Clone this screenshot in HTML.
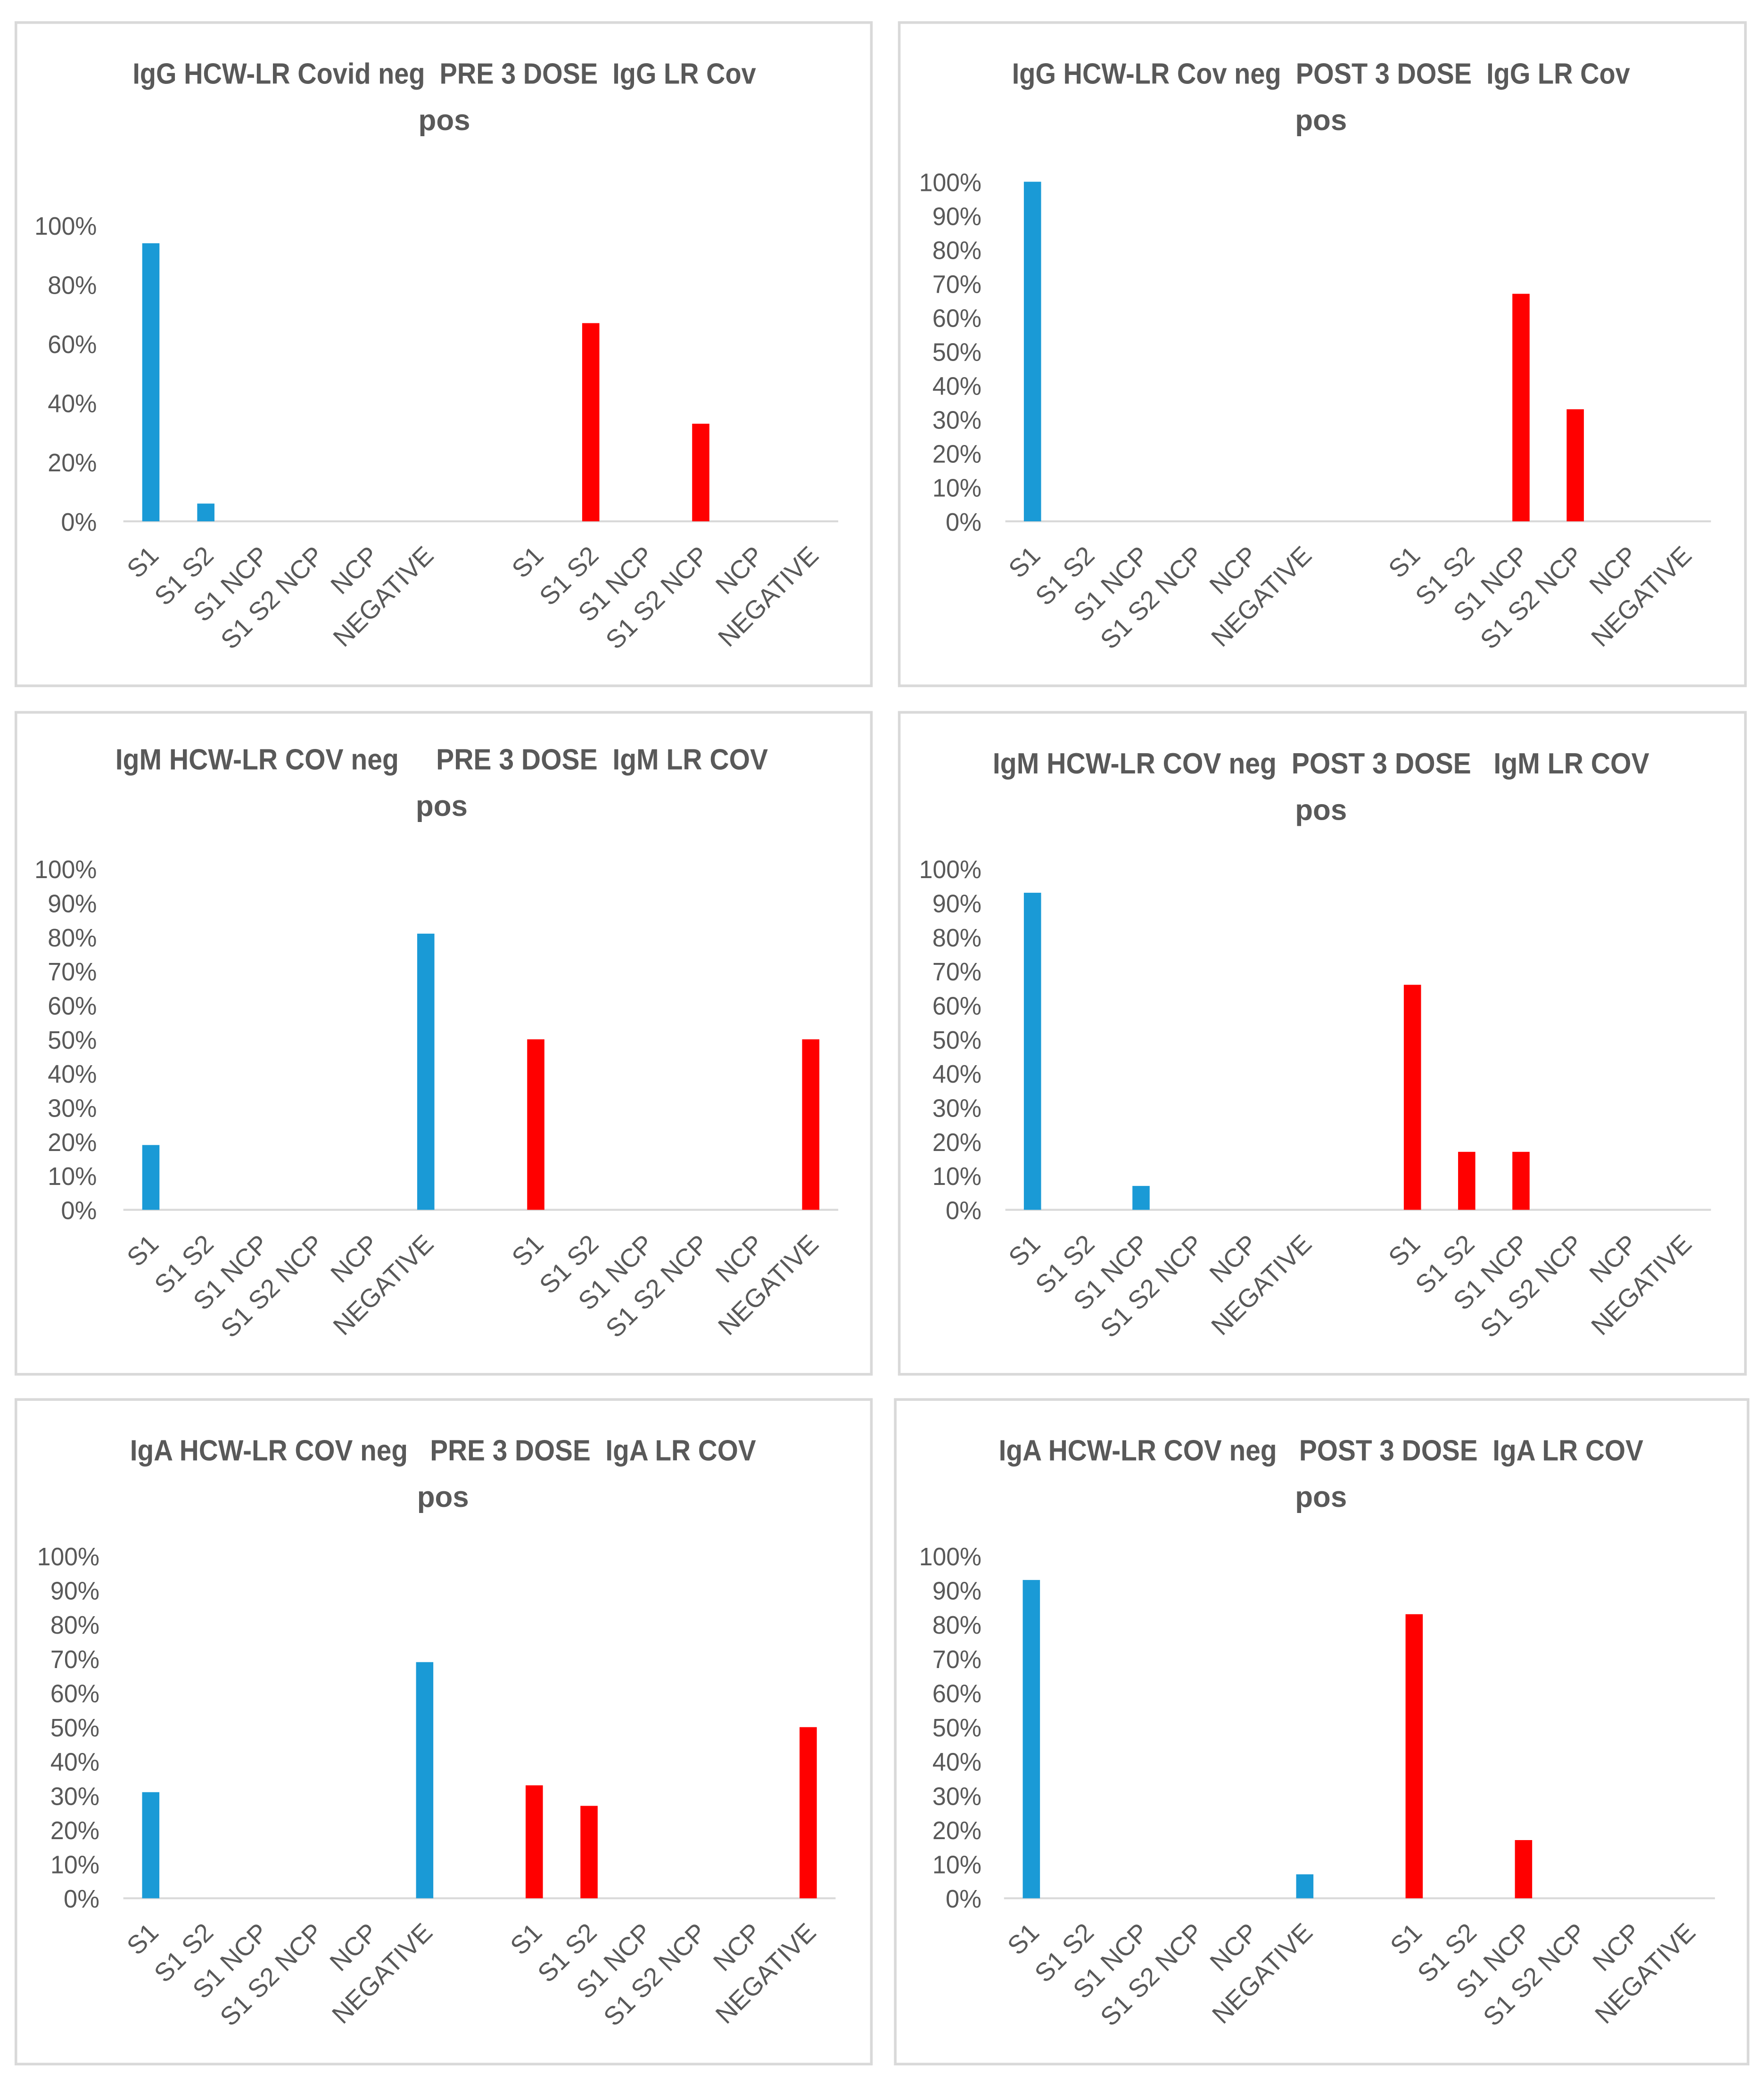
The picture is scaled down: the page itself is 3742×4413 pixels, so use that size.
<!DOCTYPE html>
<html><head><meta charset="utf-8"><style>
html,body{margin:0;padding:0;background:#fff}
svg{display:block}
text{white-space:pre}
</style></head><body>
<svg id="fig" width="3742" height="4413" viewBox="0 0 1330 1568" preserveAspectRatio="none" xmlns="http://www.w3.org/2000/svg" font-family="'Liberation Sans', sans-serif"></svg>
<script>
const categories = ["S1","S1 S2","S1 NCP","S1 S2 NCP","NCP","NEGATIVE"];
const titles1 = ["IgG HCW-LR Covid neg  PRE 3 DOSE  IgG LR Cov","IgG HCW-LR Cov neg  POST 3 DOSE  IgG LR Cov","IgM HCW-LR COV neg     PRE 3 DOSE  IgM LR COV","IgM HCW-LR COV neg  POST 3 DOSE   IgM LR COV","IgA HCW-LR COV neg   PRE 3 DOSE  IgA LR COV","IgA HCW-LR COV neg   POST 3 DOSE  IgA LR COV"];
const negValues = [[94,6,0,0,0,0],[100,0,0,0,0,0],[19,0,0,0,0,81],[93,0,7,0,0,0],[31,0,0,0,0,69],[93,0,0,0,0,7]];
const posValues = [[0,67,0,33,0,0],[0,0,67,33,0,0],[50,0,0,0,0,50],[66,17,17,0,0,0],[33,27,0,0,0,50],[83,0,17,0,0,0]];
const tickStep = [20,10,10,10,10,10];

const panels = [
 {bx:12,by:17,bw:645,bh:500,x0:93,x1:632,base:393,top:170,lab:73,tx:335,ty:55,tw:470},
 {bx:678,by:17,bw:638,bh:500,x0:758,x1:1290,base:393,top:137,lab:740,tx:996,ty:55,tw:466},
 {bx:12,by:537,bw:645,bh:499,x0:93,x1:632,base:912,top:655,lab:73,tx:333,ty:572,tw:492},
 {bx:678,by:537,bw:638,bh:499,x0:758,x1:1290,base:912,top:655,lab:740,tx:996,ty:575,tw:495},
 {bx:12,by:1055,bw:645,bh:501,x0:93,x1:630,base:1431,top:1173,lab:75,tx:334,ty:1093,tw:472},
 {bx:675,by:1055,bw:643,bh:501,x0:757,x1:1293,base:1431,top:1173,lab:740,tx:996,ty:1093,tw:486}
];
const NS="http://www.w3.org/2000/svg";
const svg=document.getElementById('fig');
function mk(tag,attrs,parent){const e=document.createElementNS(NS,tag);for(const k in attrs)e.setAttribute(k,attrs[k]);(parent||svg).appendChild(e);return e;}

panels.forEach((p,i)=>{
  const g=mk('g',{});
  
  
  const box=mk('rect',{x:p.bx,y:p.by,width:p.bw,height:p.bh,fill:'#fff',stroke:'#d9d9d9','stroke-width':2},g);
  
  
  const t1=mk('text',{x:p.tx,y:p.ty+8,'text-anchor':'middle','font-size':22,'font-weight':'bold',fill:'#595959',textLength:p.tw,lengthAdjust:'spacingAndGlyphs'},g);
  t1.textContent=titles1[i];
  
  
  const t2=mk('text',{x:p.tx,y:p.ty+43,'text-anchor':'middle','font-size':22,'font-weight':'bold',fill:'#595959'},g);
  t2.textContent='pos';
  
  
  const yv=v=>p.base-(p.base-p.top)*v/100;
  const slot=(p.x1-p.x0)/13;
  const xc=k=>p.x0+slot*(k+0.5);
  for(let v=0;v<=100;v+=tickStep[i]){
    const t=mk('text',{x:p.lab,y:yv(v)+7,'text-anchor':'end','font-size':19,fill:'#595959',textLength:(v===100?47:v===0?27:37),lengthAdjust:'spacingAndGlyphs'},g);
    t.textContent=v+'%';
    
    
  }
  const ax=mk('line',{x1:p.x0,x2:p.x1,y1:p.base,y2:p.base,stroke:'#d9d9d9','stroke-width':1.5},g);
  
  
  const groups=[[negValues[i],0,'#1a9ad6','neg'],[posValues[i],7,'#ff0000','pos']];
  groups.forEach(([vals,off,col,nm])=>{
    vals.forEach((v,k)=>{
      const cx=xc(k+off);
      if(v>0){
        const b=mk('rect',{x:cx-6.5,y:yv(v),width:13,height:p.base-yv(v),fill:col},g);
        
        
      }
      const lx=cx+7, ly=p.base+27;
      const lt=mk('text',{x:lx,y:ly,'text-anchor':'end','font-size':19.5,fill:'#595959',transform:`rotate(-45 ${lx} ${ly})`},g);
      lt.textContent=categories[k];
      
      
    });
  });
});
</script>
</body></html>
